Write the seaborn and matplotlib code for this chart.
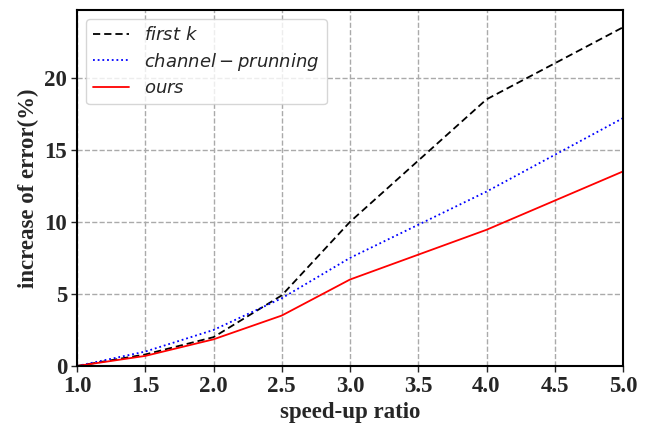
import matplotlib
matplotlib.use("Agg")
import matplotlib.pyplot as plt
import seaborn as sns
import pandas as pd

speedup = [1.0, 1.5, 2.0, 2.5, 3.0, 4.0, 5.0]
first_k = [0.0, 0.8, 2.0, 4.9, 10.0, 18.5, 23.5]
channel_pruning = [0.0, 1.0, 2.5, 4.7, 7.5, 12.1, 17.2]
ours = [0.0, 0.7, 1.85, 3.5, 6.0, 9.45, 13.5]
labels = [r"$first\ k$", r"$channel-prunning$", r"$ours$"]
xticks = [1.0, 1.5, 2.0, 2.5, 3.0, 3.5, 4.0, 4.5, 5.0]
yticks = [0, 5, 10, 15, 20]

sns.set_style("white")
plt.rcParams["mathtext.fontset"] = "dejavusans"

fig = plt.figure(figsize=(6.47, 4.24), dpi=100)
ax = fig.add_axes([77/647, 1 - 366/424, (623-77)/647, (366-10)/424])

df = pd.DataFrame({"x": speedup, "a": first_k, "b": channel_pruning, "c": ours})
sns.lineplot(data=df, x="x", y="a", ax=ax, color="black", linestyle=(0, (4, 2.2)), lw=1.3, label=labels[0])
sns.lineplot(data=df, x="x", y="b", ax=ax, color="blue", linestyle=(0, (1, 1.6)), lw=1.3, label=labels[1])
sns.lineplot(data=df, x="x", y="c", ax=ax, color="red", linestyle="-", lw=1.3, label=labels[2])

ax.set_xlim(1.0, 5.0)
ax.set_ylim(0, 24.7)
ax.set_xticks(xticks)
ax.set_yticks(yticks)
ax.set_xticklabels([f"{t:.1f}" for t in xticks], fontfamily="Liberation Serif", fontweight="bold", fontsize=16.5)
ax.set_yticklabels([str(t) for t in yticks], fontfamily="Liberation Serif", fontweight="bold", fontsize=16.5)
ax.tick_params(axis="both", direction="out", length=4, width=1, bottom=True, left=True, pad=3)
ax.grid(True, color="#aaaaaa", linestyle="--", linewidth=1)
for s in ax.spines.values():
    s.set_linewidth(1.5)
    s.set_color("black")

ax.set_xlabel("speed-up ratio", fontfamily="Liberation Serif", fontweight="bold", fontsize=16.5, labelpad=4)
ax.set_ylabel("increase of error(%)", fontfamily="Liberation Serif", fontweight="bold", fontsize=16.5, labelpad=4)

leg = ax.legend(loc="upper left", fontsize=13, frameon=True, handlelength=2.0, labelspacing=0.35)
leg.get_frame().set_edgecolor("#cccccc")

fig.savefig("out.png", dpi=100)
